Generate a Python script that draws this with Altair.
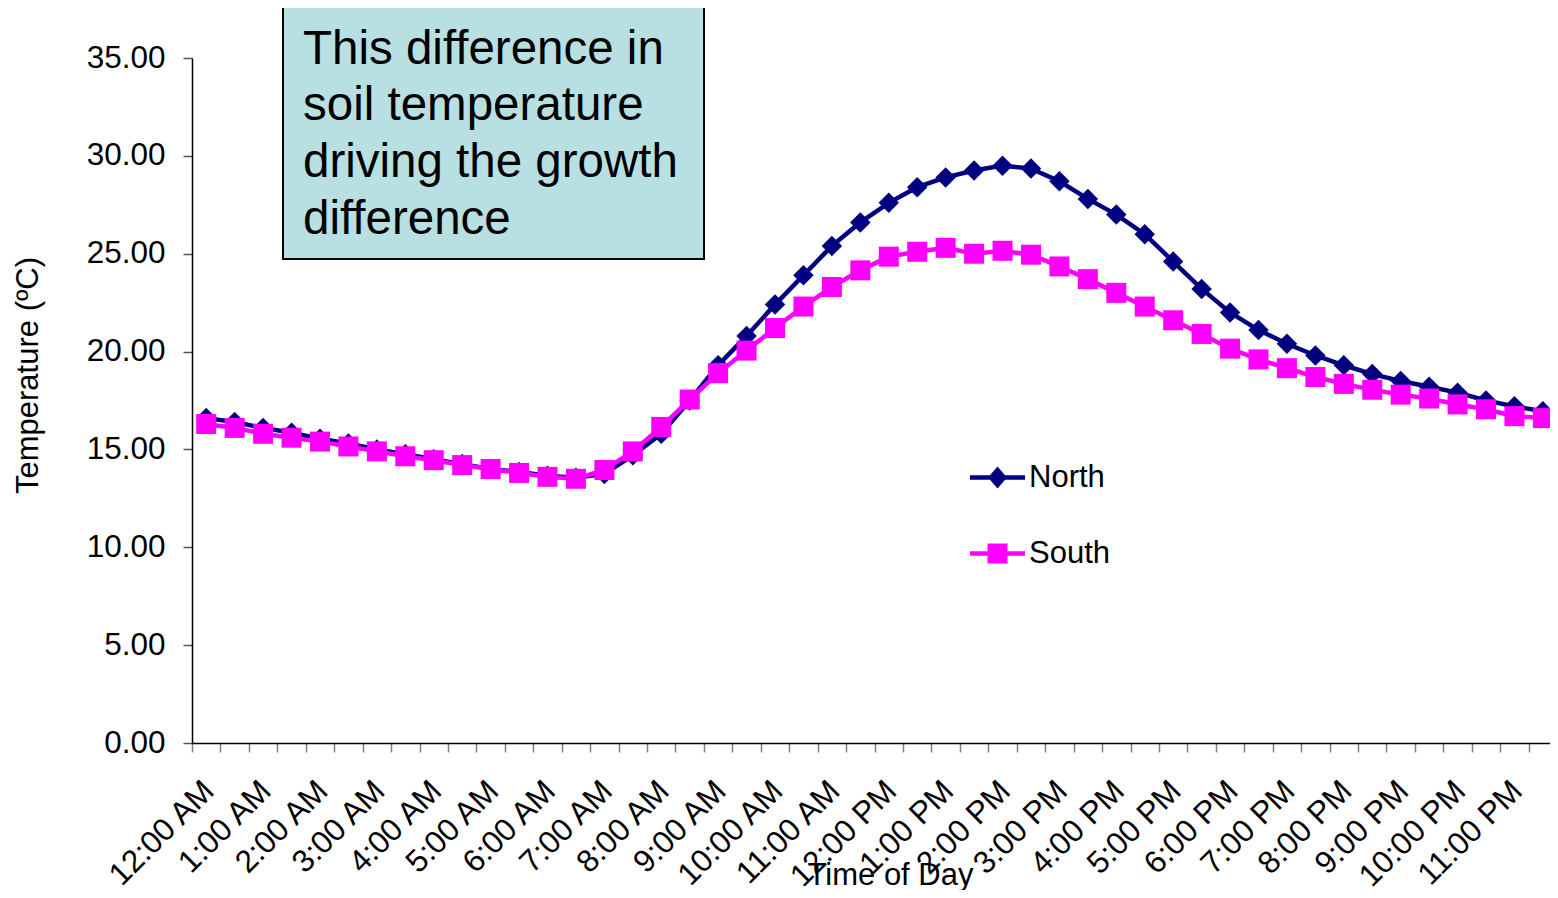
import altair as alt
import pandas as pd

# ---------------- data ----------------
hour_labels = [
    "12:00 AM", "1:00 AM", "2:00 AM", "3:00 AM", "4:00 AM", "5:00 AM",
    "6:00 AM", "7:00 AM", "8:00 AM", "9:00 AM", "10:00 AM", "11:00 AM",
    "12:00 PM", "1:00 PM", "2:00 PM", "3:00 PM", "4:00 PM", "5:00 PM",
    "6:00 PM", "7:00 PM", "8:00 PM", "9:00 PM", "10:00 PM", "11:00 PM",
]

north = [
    16.60, 16.40, 16.10, 15.85, 15.55, 15.30, 15.00, 14.75, 14.50, 14.25,
    14.00, 13.85, 13.65, 13.55, 13.75, 14.70, 15.80, 17.50, 19.30, 20.80,
    22.40, 23.90, 25.40, 26.60, 27.60, 28.40, 28.90, 29.25, 29.50, 29.35,
    28.70, 27.80, 27.00, 26.00, 24.60, 23.20, 22.00, 21.10, 20.40, 19.80,
    19.30, 18.85, 18.50, 18.20, 17.90, 17.50, 17.20, 16.95,
]

south = [
    16.30, 16.10, 15.80, 15.60, 15.40, 15.15, 14.90, 14.65, 14.45, 14.20,
    14.00, 13.80, 13.60, 13.50, 13.95, 14.90, 16.15, 17.55, 18.90, 20.05,
    21.20, 22.30, 23.30, 24.15, 24.85, 25.10, 25.30, 25.00, 25.15, 24.95,
    24.35, 23.70, 23.00, 22.30, 21.60, 20.90, 20.15, 19.60, 19.15, 18.70,
    18.35, 18.05, 17.80, 17.60, 17.30, 17.05, 16.70, 16.60,
]

series_names = ["North", "South"]
series_colors = ["#000080", "#FF00FF"]
y_tick_values = [0, 5, 10, 15, 20, 25, 30, 35]
annotation_lines = ["This difference in", "soil temperature",
                    "driving the growth", "difference"]

n_points = len(north)
df = pd.DataFrame({
    "idx": list(range(n_points)) * 2,
    "series": ["North"] * n_points + ["South"] * n_points,
    "temp": north + south,
})
one_row = pd.DataFrame({"k": [0]})

FONT = "Liberation Sans, Arial, sans-serif"

# ---------------- axes ----------------
label_array = "[" + ",".join("'" + s + "'" for s in hour_labels) + "]"
label_expr = (
    "(datum.value + 0.5) % 2 == 0 ? " + label_array +
    "[(datum.value + 0.5) / 2] : ''"
)

x_axis = alt.Axis(
    values=[k - 0.5 for k in range(n_points)],
    labelExpr=label_expr,
    labelAngle=315,
    labelAlign="right",
    labelBaseline="middle",
    labelOffset=17,
    labelPadding=34,
    labelOverlap=False,
    labelBound=False,
    labelFlush=False,
    labelFont=FONT,
    labelFontSize=31.5,
    labelColor="black",
    labelLimit=0,
    grid=False,
    tickSize=9,
    tickColor="#808080",
    tickWidth=1.5,
    domainColor="black",
    domainWidth=1.5,
    title="Time of Day",
    titleFont=FONT,
    titleFontSize=31,
    titleFontWeight="normal",
    titleColor="black",
    titleX=698,
    titleY=141,
    titleAlign="center",
    titleBaseline="alphabetic",
)

y_axis = alt.Axis(
    values=y_tick_values,
    format=".2f",
    labelFont=FONT,
    labelFontSize=31.5,
    labelColor="black",
    labelPadding=18,
    grid=False,
    tickSize=9,
    tickColor="#555555",
    tickWidth=1.5,
    domainColor="black",
    domainWidth=1.5,
    title="Temperature (ºC)",
    titleFont=FONT,
    titleFontSize=31,
    titleFontWeight="normal",
    titleColor="black",
    titleAngle=270,
    titleX=-164,
    titleY=317,
    titleAlign="center",
    titleBaseline="middle",
)

x_enc = alt.X("idx:Q", scale=alt.Scale(domain=[-0.5, 47.25], nice=False, zero=False), axis=x_axis)
y_enc = alt.Y("temp:Q", scale=alt.Scale(domain=[0, 35], nice=False, zero=True), axis=y_axis)

base = alt.Chart(df)

layers = []
marker_shapes = {"North": ("diamond", 420), "South": ("square", 400)}
for name, color in zip(series_names, series_colors):
    sub = base.transform_filter(alt.datum.series == name)
    layers.append(sub.mark_line(color=color, strokeWidth=4.5).encode(x=x_enc, y=y_enc))
    shp, sz = marker_shapes[name]
    layers.append(
        sub.mark_point(shape=shp, size=sz, filled=True, color=color, opacity=1)
        .encode(x=x_enc, y=y_enc)
    )

# legend (line + marker symbols)
legend_paths = [
    "M-2.75,-0.22L2.75,-0.22L2.75,0.22L-2.75,0.22Z M0,-1.1L0.95,0L0,1.1L-0.95,0Z",
    "M-2.75,-0.22L2.75,-0.22L2.75,0.22L-2.75,0.22Z M-1,-1L1,-1L1,1L-1,1Z",
]
leg = alt.Legend(
    orient="none", legendX=790, legendY=404, title=None,
    labelFont=FONT, labelFontSize=31, labelColor="black",
    symbolSize=400, symbolStrokeWidth=0, symbolOpacity=1,
    labelOffset=16, rowPadding=44, padding=0, labelLimit=0,
)
legend_layer = base.transform_filter("false").mark_point(filled=True, opacity=1).encode(
    x=x_enc, y=y_enc,
    color=alt.Color("series:N", scale=alt.Scale(domain=series_names, range=series_colors), legend=leg),
    shape=alt.Shape("series:N", scale=alt.Scale(domain=series_names, range=legend_paths), legend=leg),
)

# annotation box
box = alt.Chart(one_row).mark_rect(fill="#B8E0E3", stroke="black", strokeWidth=2).encode(
    x=alt.value(91), x2=alt.value(512), y=alt.value(-51), y2=alt.value(201)
)
box_text = alt.Chart(one_row).mark_text(
    align="left", baseline="alphabetic", font=FONT, fontSize=47.5, lineHeight=56.7, color="black"
).encode(x=alt.value(111), y=alt.value(5.5), text=alt.value(annotation_lines))

chart = alt.layer(box, box_text, *layers, legend_layer).properties(
    width=1358,
    height=685,
    autosize=alt.AutoSizeParams(type="none"),
    padding={"left": 184, "top": 50, "right": 0, "bottom": 147},
    background="white",
).configure_view(stroke=None)

chart.save("out.html", embed_options={"renderer": "svg", "actions": False})
